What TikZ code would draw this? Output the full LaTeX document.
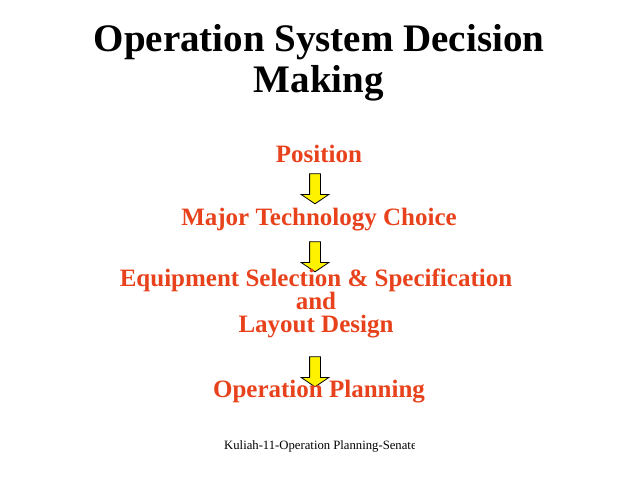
\documentclass[tikz,border=0pt]{standalone}
\usepackage{fontspec}
\setmainfont{Liberation Serif}
\usetikzlibrary{shapes.arrows, positioning}
\definecolor{stepred}{RGB}{232,66,28}

\tikzset{
  heading/.style={font=\bfseries\fontsize{39}{41}\selectfont, align=center, anchor=base},
  stage/.style={font=\bfseries\fontsize{25}{23}\selectfont, text=stepred, align=center, anchor=base},
  downarrow/.style={single arrow, draw=black, fill=yellow, thick, rotate=-90,
                    minimum height=30pt, inner xsep=0pt, inner ysep=5pt,
                    single arrow head extend=8.5pt, single arrow tip angle=112},
  footer/.style={font=\fontsize{12.7}{13}\selectfont, inner sep=0pt, anchor=base west}
}

\begin{document}
\begin{tikzpicture}[x=1pt,y=-1pt]
  \useasboundingbox (0,0) rectangle (638,478);
  % multi-line nodes sit on the baseline of their last line
  \node[heading] (title) at (319,93) {Operation System Decision\\Making};

  \node[stage] (pos) at (319,163) {Position};
  \node[downarrow] (a1) at (315,187) {};
  \node[stage] (tech) at (319,226) {Major Technology Choice};
  \node[downarrow] (a2) at (315,255) {};
  \node[stage] (equip) at (316,333) {Equipment Selection \& Specification\\and\\Layout Design};
  \node[downarrow] (a3) at (315,370) {};
  \node[stage] (plan) at (319,398) {Operation Planning};

  \begin{scope}
    \clip (0,420) rectangle (414,460);
    \node[footer] (foot) at (224,450) {Kuliah-11-Operation Planning-Senate};
  \end{scope}
\end{tikzpicture}
\end{document}
